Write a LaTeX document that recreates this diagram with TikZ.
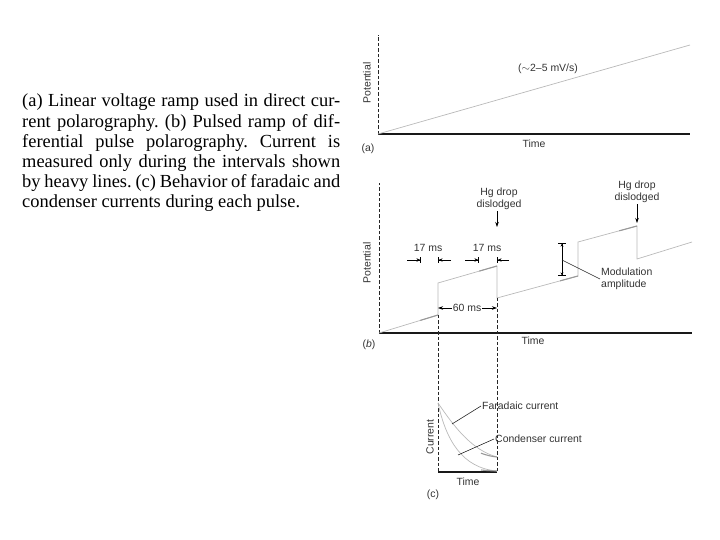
\documentclass[tikz,border=0pt]{standalone}
\usepackage{fontspec}
\setmainfont{Liberation Serif}
\setsansfont{Liberation Sans}
\usetikzlibrary{positioning, arrows.meta, calc}
\frenchspacing

\begin{document}
\begin{tikzpicture}[
    x=1bp, y=-1bp,
    axis/.style={black!85, line width=0.6pt, dash pattern=on 3.5pt off 2pt},
    base/.style={black!90, line width=1.1pt},
    ramp/.style={gray!55, line width=0.7pt},
    heavy/.style={gray!80, line width=1.1pt},
    lbl/.style={font=\sffamily\fontsize{10.5}{12.5}\selectfont, text=black!80, inner sep=1pt, align=center},
    ylbl/.style={lbl, rotate=90},
    arr/.style={-{Stealth[length=5pt, width=3.5pt]}, line width=0.6pt},
    dim/.style={-{Stealth[length=4pt, width=3.5pt]Bar[width=6pt]}, line width=0.6pt},
    amp/.style={{Bar[width=8pt]Stealth[length=3pt, width=3pt]}-{Stealth[length=3pt, width=3pt]Bar[width=8pt]}, line width=0.6pt},
    lead/.style={black!85, line width=0.6pt},
    captext/.style={font=\fontsize{18.5}{20.2}\selectfont, text width=318bp, align=justify, inner sep=0pt, anchor=north west}
  ]
  \useasboundingbox (0,0) rectangle (720,540);

  % caption
  \node[captext] (caption) at (22,94) {(a) Linear voltage ramp used in direct cur-\linebreak rent polarography. (b) Pulsed ramp of dif-\linebreak ferential pulse polarography. Current is\linebreak measured only during the intervals shown\linebreak by heavy lines. (c) Behavior of faradaic and\linebreak condenser currents during each pulse.};

  % panel (a)
  \coordinate (a0) at (378,134);
  \coordinate (aY) at (378,35);
  \coordinate (aX) at (690,134);
  \coordinate (aE) at (690,45);
  \draw[axis] (a0) -- (aY);
  \draw[base] (a0) -- (aX);
  \draw[ramp] (a0) -- (aE);
  \node[lbl] (rate) at (548,69) {(${\sim}$2--5 mV/s)};
  \node[ylbl] (apot) at (367,83) {Potential};
  \node[lbl] (atime) at (534,144) {Time};
  \node[lbl] (atag) at (368,149) {(a)};

  % panel (b)
  \coordinate (b0) at (379,333);
  \coordinate (bY) at (379,183);
  \coordinate (bX) at (692,333);
  \coordinate (p1) at (438,315);
  \coordinate (p1t) at (438,283);
  \coordinate (p2) at (497,266);
  \coordinate (p2b) at (497,298);
  \coordinate (p3) at (578,276);
  \coordinate (p3t) at (578,242);
  \coordinate (p4) at (637,226);
  \coordinate (p4b) at (637,259);
  \coordinate (p5) at (692,242);
  \draw[axis] (b0) -- (bY);
  \draw[base] (b0) -- (bX);
  \draw[ramp] (b0) -- (p1) -- (p1t) -- (p2) -- (p2b) -- (p3) -- (p3t) -- (p4) -- (p4b) -- (p5);
  \draw[heavy] ($(b0)!0.7!(p1)$) -- (p1);
  \draw[heavy] ($(p1t)!0.7!(p2)$) -- (p2);
  \draw[heavy] ($(p2b)!0.78!(p3)$) -- (p3);
  \draw[heavy] ($(p3t)!0.7!(p4)$) -- (p4);
  \node[ylbl] (bpot) at (367,263) {Potential};
  \node[lbl] (btime) at (533,341) {Time};
  \node[lbl] (btag) at (369,345) {(\textit{b})};

  % 17 ms intervals
  \node[lbl] (ms1) at (428,248) {17 ms};
  \node[lbl] (ms2) at (487,248) {17 ms};
  \coordinate (m1a) at (407,260);
  \coordinate (m1b) at (421,260);
  \coordinate (m1c) at (451,260);
  \coordinate (m1d) at (438,260);
  \coordinate (m2a) at (465,260);
  \coordinate (m2b) at (479,260);
  \coordinate (m2c) at (509,260);
  \coordinate (m2d) at (497,260);
  \draw[dim] (m1a) -- (m1b);
  \draw[dim] (m1c) -- (m1d);
  \draw[dim] (m2a) -- (m2b);
  \draw[dim] (m2c) -- (m2d);

  % drop lines into panel (c)
  \coordinate (c0) at (438,472);
  \coordinate (c1) at (497,472);
  \draw[axis] (p1) -- (c0);
  \draw[axis] (p2b) -- (c1);

  % 60 ms pulse width
  \node[lbl] (ms3) at (467,308) {60 ms};
  \coordinate (w1) at (438,308);
  \coordinate (w2) at (497,308);
  \draw[arr] (ms3.west) -- (w1);
  \draw[arr] (ms3.east) -- (w2);

  % Hg drop
  \node[lbl] (hg1) at (499,199) {Hg drop\\dislodged};
  \node[lbl] (hg2) at (637,192) {Hg drop\\dislodged};
  \coordinate (h1) at (497,227);
  \coordinate (h2) at (637,223);
  \draw[arr] (hg1.south -| h1) -- (h1);
  \draw[arr] (hg2.south -| h2) -- (h2);

  % modulation amplitude
  \coordinate (mt) at (562,243);
  \coordinate (mb) at (562,276);
  \coordinate (mm) at (562,260);
  \draw[amp] (mt) -- (mb);
  \node[lbl, anchor=west, align=left] (mod) at (600,279) {Modulation\\amplitude};
  \draw[lead] (mm) -- (mod.west);

  % panel (c)
  \draw[base] (c0) -- (c1);
  \coordinate (i0) at (438,403);
  \draw[ramp] (i0) .. controls (455,428) and (472,450) .. (497,457);
  \draw[heavy] (481,453.2) .. controls (487,455.4) and (492,456.5) .. (497,457);
  \draw[ramp] (i0) .. controls (446,440) and (462,468) .. (497,471);
  \draw[heavy] (481,470) .. controls (487,470.6) and (492,470.8) .. (497,471);
  \node[lbl, anchor=west] (far) at (481,406) {Faradaic current};
  \node[lbl, anchor=west] (con) at (494,439) {Condenser current};
  \coordinate (f0) at (452,424);
  \coordinate (k0) at (458,455);
  \draw[lead] (f0) -- (far.west);
  \draw[lead] (k0) -- (con.west);
  \node[ylbl] (cpot) at (430,437) {Current};
  \node[lbl] (ctime) at (468,482) {Time};
  \node[lbl] (ctag) at (433,495) {(c)};
\end{tikzpicture}
\end{document}
